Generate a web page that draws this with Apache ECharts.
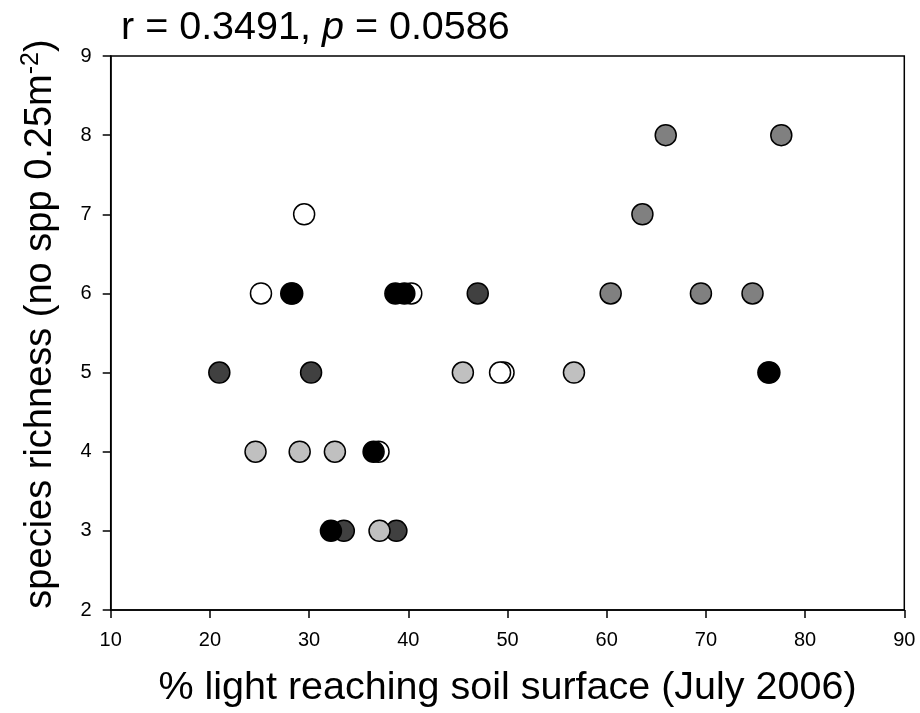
<!DOCTYPE html>
<html>
<head>
<meta charset="utf-8">
<script src="https://cdn.jsdelivr.net/npm/echarts@6/dist/echarts.min.js"></script>
<style>html,body{margin:0;padding:0;background:#fff;}#c{width:920px;height:713px;}</style>
</head>
<body>
<div id="c"></div>
<script>
// Data: [light %, species richness]
const darkGray = [[20.95,5],[30.2,5],[47.0,6],[33.5,3],[38.8,3]];
const midGray = [[65.95,8],[77.6,8],[63.6,7],[60.4,6],[69.5,6],[74.7,6]];
const white = [[29.5,7],[25.15,6],[40.3,6],[37.0,4],[49.6,5],[49.25,5]];
const lightGray = [[24.6,4],[29.05,4],[32.6,4],[37.1,3],[45.5,5],[56.7,5]];
const black = [[28.3,6],[28.2,6],[38.7,6],[39.6,6],[36.5,4],[32.2,3],[76.4,5],[76.3,5]];
const xTicks = [10,20,30,40,50,60,70,80,90];
const yTicks = [2,3,4,5,6,7,8,9];

const font = 'Liberation Sans, Arial, sans-serif';
function ser(data, color) {
  return {
    type: 'scatter', data: data, symbol: 'circle', symbolSize: 21,
    itemStyle: {color: color, borderColor: '#000', borderWidth: 1.5, opacity: 1},
    emphasis: {disabled: true}, animation: false
  };
}
const chart = echarts.init(document.getElementById('c'), null, {renderer: 'canvas'});
chart.setOption({
  animation: false,
  backgroundColor: '#fff',
  title: {
    text: 'r = 0.3491, {i|p} = 0.0586',
    left: 116, top: 3,
    textStyle: {fontFamily: font, fontSize: 39.5, fontWeight: 'normal', color: '#000',
      rich: {i: {fontFamily: font, fontSize: 39.5, fontStyle: 'italic', color: '#000'}}}
  },
  grid: {left: 110.7, right: 15.7, top: 56, bottom: 102, show: true, borderColor: '#000', borderWidth: 1.5, backgroundColor: 'transparent'},
  xAxis: {
    type: 'value', min: xTicks[0], max: xTicks[xTicks.length-1], interval: 10,
    name: '% light reaching soil surface (July 2006)', nameLocation: 'middle', nameGap: 58,
    nameTextStyle: {fontFamily: font, fontSize: 39.5, color: '#000'},
    axisLine: {show: true, onZero: false, lineStyle: {color: '#000', width: 1.5}},
    axisTick: {show: true, inside: false, length: 8, lineStyle: {color: '#000', width: 1.5}},
    axisLabel: {margin: 20, fontFamily: font, fontSize: 20, color: '#000'},
    splitLine: {show: false}
  },
  yAxis: {
    type: 'value', min: yTicks[0], max: yTicks[yTicks.length-1], interval: 1,
    name: 'species richness (no spp 0.25m{s|-2})', nameLocation: 'middle', nameGap: 70, nameRotate: 90,
    nameTextStyle: {fontFamily: font, fontSize: 38, color: '#000', lineHeight: 44, verticalAlign: 'middle', padding: [0,0,0,18],
      rich: {s: {fontFamily: font, fontSize: 25, color: '#000', verticalAlign: 'top', lineHeight: 44}}},
    axisLine: {show: true, onZero: false, lineStyle: {color: '#000', width: 1.5}},
    axisTick: {show: true, inside: false, length: 8, lineStyle: {color: '#000', width: 1.5}},
    axisLabel: {margin: 19, fontFamily: font, fontSize: 20, color: '#000'},
    splitLine: {show: false}
  },
  series: [
    ser(darkGray, '#404040'),
    ser(midGray, '#808080'),
    ser(white, '#ffffff'),
    ser(lightGray, '#c0c0c0'),
    ser(black, '#000000')
  ]
});
</script>
</body>
</html>
